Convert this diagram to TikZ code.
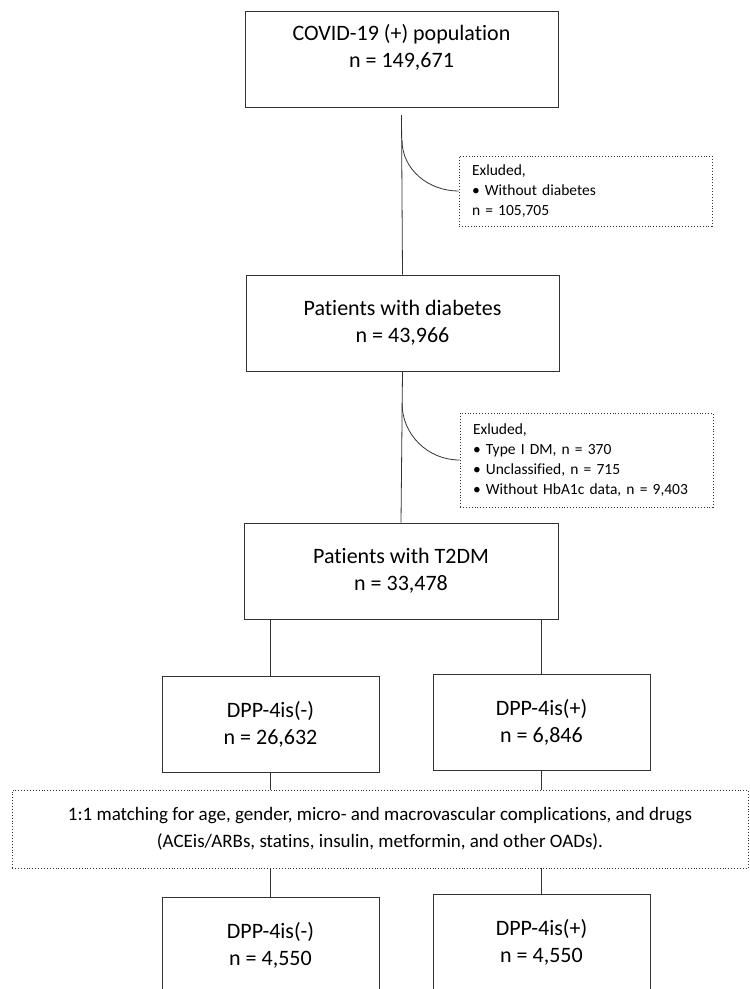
\documentclass[tikz,border=0pt]{standalone}
\usepackage{fontspec}
\setmainfont{Carlito}[Ligatures=NoCommon]
\usetikzlibrary{positioning}

\tikzstyle{box} = [draw=black!80, line width=1pt, align=center, minimum height=96pt, inner sep=0pt, font=\fontsize{22}{27}\selectfont]
\tikzstyle{exbox} = [draw=black!80, line width=0.9pt, dotted, align=left, inner xsep=13pt, inner ysep=0pt, font=\fontsize{15.5}{20}\selectfont]
\tikzstyle{matchbox} = [draw=black!80, line width=0.9pt, dotted, align=center, minimum width=736pt, minimum height=78pt, font=\fontsize{19}{27}\selectfont]
\tikzstyle{link} = [draw=black!80, line width=0.8pt]

\begin{document}
\begin{tikzpicture}[x=1pt, y=-1pt]
    \useasboundingbox (0, 0) rectangle (750, 989);
    \clip (0, 0) rectangle (750, 989);
    \node[box, minimum width=313pt] (N1) at (401.5, 59.5) {COVID-19 (+) population\\n = 149,671\\\mbox{}};
    \node[box, minimum width=313pt] (N2) at (402.5, 323) {Patients with diabetes\\n = 43,966};
    \node[box, minimum width=314pt] (N3) at (401, 571) {Patients with T2DM\\n = 33,478};
    \node[exbox, minimum width=253pt, minimum height=70pt, text width=227pt] (E1) at (585.5, 191) {Exluded,\\\textbullet{} Without diabetes\\n = 105,705};
    \node[exbox, minimum width=253pt, minimum height=94pt, text width=227pt] (E2) at (586.5, 460) {Exluded,\\\textbullet{} Type I DM, n = 370\\\textbullet{} Unclassified, n = 715\\\textbullet{} Without HbA1c data, n = 9,403};
    \node[box, minimum width=217pt] (D1) at (270.5, 724) {DPP-4is(-)\\n = 26,632};
    \node[box, minimum width=217pt] (D2) at (541.5, 722) {DPP-4is(+)\\n = 6,846};
    \node[matchbox] (M) at (380, 829) {1:1 matching for age, gender, micro- and macrovascular complications, and drugs\\(ACEis/ARBs, statins, insulin, metformin, and other OADs).};
    \node[box, minimum width=217pt] (P1) at (270.5, 945) {DPP-4is(-)\\n = 4,550};
    \node[box, minimum width=217pt] (P2) at (541.5, 942) {DPP-4is(+)\\n = 4,550};
    \coordinate (C1) at (402, 140);
    \coordinate (C2) at (402, 403);
    \draw[link] ([yshift=-7pt]N1.south) -- (N2.north);
    \draw[link] (N2.south) -- (N3.north);
    \draw[link] (C1) to[out=-90, in=180] (E1.west);
    \draw[link] (C2) to[out=-90, in=180] (E2.west);
    \draw[link] (D1.north |- N3.south) -- (D1.north);
    \draw[link] (D2.north |- N3.south) -- (D2.north);
    \draw[link] (D1.south) -- (D1.south |- M.north);
    \draw[link] (D2.south) -- (D2.south |- M.north);
    \draw[link] (P1.north |- M.south) -- (P1.north);
    \draw[link] (P2.north |- M.south) -- (P2.north);
  \end{tikzpicture}
\end{document}
